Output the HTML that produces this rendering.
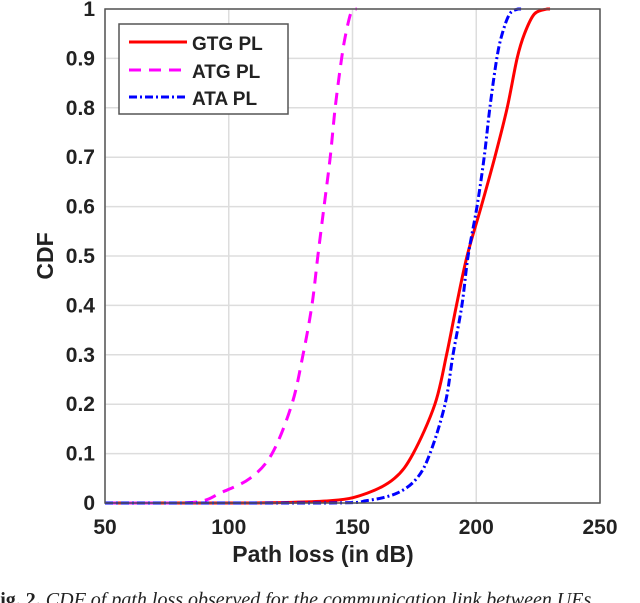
<!DOCTYPE html>
<html><head><meta charset="utf-8"><style>
html,body{margin:0;padding:0;background:#fff;width:640px;height:603px;overflow:hidden}
svg{display:block}
</style></head><body>
<svg id="chart" width="640" height="603" xmlns="http://www.w3.org/2000/svg">
<g id="grid"></g>
<g id="series"></g>
<rect x="105" y="9" width="495" height="494" fill="none" stroke="#555" stroke-width="1.5"/>
<g id="ticks" font-family="Liberation Sans, sans-serif" font-weight="bold" font-size="21" fill="#222"></g>
<text x="323" y="562" text-anchor="middle" font-family="Liberation Sans, sans-serif" font-weight="bold" font-size="23" fill="#222">Path loss (in dB)</text>
<text transform="translate(53,256) rotate(-90)" text-anchor="middle" font-family="Liberation Sans, sans-serif" font-weight="bold" font-size="23" fill="#222">CDF</text>
<g>
<rect x="119" y="24" width="169" height="90" fill="#fff" stroke="#555" stroke-width="1.5"/>
<line x1="129" y1="42" x2="187" y2="42" stroke="#f00" stroke-width="3"/>
<text x="192" y="50" font-family="Liberation Sans, sans-serif" font-weight="bold" font-size="19" fill="#222">GTG PL</text>
<line x1="129" y1="70" x2="187" y2="70" stroke="#f0f" stroke-width="3" stroke-dasharray="12,8"/>
<text x="192" y="78" font-family="Liberation Sans, sans-serif" font-weight="bold" font-size="19" fill="#222">ATG PL</text>
<line x1="129" y1="97" x2="187" y2="97" stroke="#00f" stroke-width="3" stroke-dasharray="8,3,2,3"/>
<text x="192" y="105" font-family="Liberation Sans, sans-serif" font-weight="bold" font-size="19" fill="#222">ATA PL</text>
</g>
<text x="-12" y="606" font-family="Liberation Serif, serif" font-style="italic" font-size="20" fill="#222"><tspan font-weight="bold" font-style="normal">Fig. 2.</tspan> CDF of path loss observed for the communication link between UEs</text>
</svg>
<script>
const xTicks=[50,100,150,200,250];
const yTicks=[0,0.1,0.2,0.3,0.4,0.5,0.6,0.7,0.8,0.9,1];
const yTickLabels=["0","0.1","0.2","0.3","0.4","0.5","0.6","0.7","0.8","0.9","1"];
const cdfLevels=[0,0.005,0.02,0.05,0.1,0.2,0.3,0.4,0.5,0.6,0.7,0.8,0.9,0.95,0.99,1];
const gtgPL=[110,142,156,167,174.5,183.3,188,192,196.3,202,207.5,212.5,216.5,219.5,223.5,228.6];
const atgPL=[80,90,96.5,108.6,117.5,125.5,130,133.6,136,138.5,141,143,145.6,147.3,149.2,150.5];
const ataPL=[140,156,168,176,181.3,187.4,190.6,194.2,196.7,200.3,203.2,205.5,208.3,210.5,213.5,216.9];
const NS="http://www.w3.org/2000/svg";
const X=v=>105+(v-50)*495/200;
const Y=v=>503-v*494;
const grid=document.getElementById('grid'),ticks=document.getElementById('ticks'),ser=document.getElementById('series');
xTicks.forEach(t=>{
 const l=document.createElementNS(NS,'line');
 l.setAttribute('x1',X(t));l.setAttribute('x2',X(t));l.setAttribute('y1',9);l.setAttribute('y2',503);
 l.setAttribute('stroke','#ddd');l.setAttribute('stroke-width','1.5');
 
 
 grid.appendChild(l);
 const tx=document.createElementNS(NS,'text');
 tx.setAttribute('x',X(t));tx.setAttribute('y',534);tx.setAttribute('text-anchor','middle');tx.textContent=t;
 
 
 ticks.appendChild(tx);
});
yTicks.forEach((t,i)=>{
 const l=document.createElementNS(NS,'line');
 l.setAttribute('x1',105);l.setAttribute('x2',600);l.setAttribute('y1',Y(t));l.setAttribute('y2',Y(t));
 l.setAttribute('stroke','#ddd');l.setAttribute('stroke-width','1.5');
 
 
 grid.appendChild(l);
 const tx=document.createElementNS(NS,'text');
 tx.setAttribute('x',95);tx.setAttribute('y',Y(t)+7);tx.setAttribute('text-anchor','end');tx.textContent=yTickLabels[i];
 
 
 ticks.appendChild(tx);
});
function draw(xs,color,dash,name){
 let pts=[[X(50),Y(0)]];
 xs.forEach((v,i)=>pts.push([X(v),Y(cdfLevels[i])]));
 pts.push([X(xs[xs.length-1])+3,Y(1)]);
 let d='M'+pts[0][0]+','+pts[0][1];
 for(let i=1;i<pts.length;i++){
  const p0=pts[Math.max(0,i-2)],p1=pts[i-1],p2=pts[i],p3=pts[Math.min(pts.length-1,i+1)];
  const c1x=p1[0]+(p2[0]-p0[0])/6,c1y=p1[1]+(p2[1]-p0[1])/6,c2x=p2[0]-(p3[0]-p1[0])/6,c2y=p2[1]-(p3[1]-p1[1])/6;
  d+=' C'+c1x+','+Math.max(9,Math.min(503,c1y))+' '+c2x+','+Math.max(9,Math.min(503,c2y))+' '+p2[0]+','+p2[1];
 }
 const p=document.createElementNS(NS,'path');
 p.setAttribute('d',d);p.setAttribute('fill','none');p.setAttribute('stroke',color);p.setAttribute('stroke-width','3');
 if(dash)p.setAttribute('stroke-dasharray',dash);
 
 
 ser.appendChild(p);
}
draw(gtgPL,'#f00',null,'gtg-line');
draw(atgPL,'#f0f','12,8','atg-line');
draw(ataPL,'#00f','8,3,2,3','ata-line');
</script>
</body></html>
